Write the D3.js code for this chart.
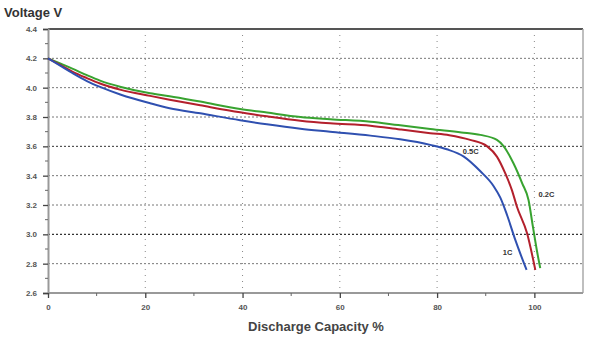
<!DOCTYPE html>
<html><head><meta charset="utf-8">
<script src="https://cdn.jsdelivr.net/npm/d3@7/dist/d3.min.js"></script>
<style>body{margin:0;background:#fff}svg{display:block;font-family:Arial,"Liberation Sans",sans-serif}</style>
</head><body><svg id="c" width="600" height="340"></svg>
<script>
const cap02 = [0,2.5,5,8,10.7,15,21,25,31.3,39.5,45,51.9,58,66.3,72,78.6,85,88.9,92.3,93.7,95.7,97.5,98.8,99.7,100.5,101.2];
const v02   = [4.20,4.165,4.13,4.085,4.048,4.005,3.962,3.942,3.905,3.855,3.83,3.80,3.785,3.768,3.745,3.718,3.695,3.678,3.644,3.60,3.485,3.348,3.234,3.052,2.893,2.77];
const cap05 = [0,2.5,5,8,10.7,15,21,25,31.3,39.5,45,51.9,58,66.3,72.4,78.6,82.5,86.8,90.3,92.3,94,95.4,96.4,98.5,100.2];
const v05   = [4.20,4.155,4.11,4.065,4.028,3.985,3.944,3.918,3.88,3.832,3.805,3.775,3.757,3.741,3.715,3.69,3.676,3.644,3.60,3.53,3.417,3.30,3.19,3.007,2.757];
const cap1  = [0,2.5,5,8,10.7,15,21,25,31.3,39.5,45,51.9,58,66.3,72.4,78.6,82,85.5,88.9,91.6,93,94.4,96.1,98.4];
const v1    = [4.20,4.15,4.10,4.045,4.005,3.952,3.894,3.86,3.825,3.778,3.75,3.72,3.70,3.673,3.648,3.61,3.58,3.53,3.43,3.33,3.25,3.13,2.96,2.757];
const seriesNames = ["0.2C","0.5C","1C"];
const xTicks = [0,20,40,60,80,100];
const yTicks = [2.6,2.8,3.0,3.2,3.4,3.6,3.8,4.0,4.2,4.4];

const svg = d3.select("#c");
const L=48,R=583,T=29,B=293;
const x = d3.scaleLinear().domain([0,110]).range([L,R]);
const y = d3.scaleLinear().domain([2.6,4.4]).range([B,T]);

// grid
const hg = [2.8,3.0,3.2,3.4,3.6,3.8,4.0,4.2];
svg.append("g").selectAll("line").data(hg).join("line")
  .attr("x1",L).attr("x2",R).attr("y1",d=>y(d)).attr("y2",d=>y(d))
  .attr("stroke",d=>(Math.abs(d-3.0)<1e-6||Math.abs(d-3.6)<1e-6)?"#333":"#777")
  .attr("stroke-width",d=>(Math.abs(d-3.0)<1e-6)?1.4:1)
  .attr("stroke-dasharray","2,2");
svg.append("g").selectAll("line").data([20,40,60,80,100]).join("line")
  .attr("x1",d=>x(d)).attr("x2",d=>x(d)).attr("y1",T).attr("y2",B)
  .attr("stroke","#888").attr("stroke-width",1).attr("stroke-dasharray","1,5");

// borders
svg.append("line").attr("x1",L).attr("x2",R).attr("y1",T).attr("y2",T).attr("stroke","#555").attr("stroke-width",2);
svg.append("line").attr("x1",R).attr("x2",R).attr("y1",T).attr("y2",B).attr("stroke","#aaa").attr("stroke-width",1.5);

// axes
const yAxis = d3.axisLeft(y).tickValues(yTicks).tickFormat(d3.format(".1f")).tickSize(5).tickPadding(6);
const gy = svg.append("g").attr("transform",`translate(${L},0)`).call(yAxis);
const xAxis = d3.axisBottom(x).tickValues(xTicks).tickFormat(d3.format("d")).tickSize(5).tickPadding(6);
const gx = svg.append("g").attr("transform",`translate(0,${B})`).call(xAxis);
[gx,gy].forEach(g=>{
  g.select(".domain").attr("stroke","#999").attr("stroke-width",2);
  g.selectAll(".tick line").attr("stroke","#444").attr("stroke-width",1.3);
  g.selectAll(".tick text").attr("fill","#555").attr("font-size",8).attr("font-weight","bold");
});
gx.select(".domain").attr("d",`M${L},0H${R}`);
// minor ticks
svg.append("g").selectAll("line").data(d3.range(2.7,4.4,0.2)).join("line")
  .attr("x1",L-3).attr("x2",L).attr("y1",d=>y(d)).attr("y2",d=>y(d)).attr("stroke","#666");
svg.append("g").selectAll("line").data([10,30,50,70,90]).join("line")
  .attr("x1",d=>x(d)).attr("x2",d=>x(d)).attr("y1",B).attr("y2",B+3).attr("stroke","#666");

// curves
const line = d3.line().x(d=>x(d[0])).y(d=>y(d[1])).curve(d3.curveMonotoneX);
const data = [
  {name:"0.2C",color:"#38a330",pts:d3.zip(cap02,v02)},
  {name:"0.5C",color:"#b3202c",pts:d3.zip(cap05,v05)},
  {name:"1C",color:"#2f50b0",pts:d3.zip(cap1,v1)}
];
svg.append("g").selectAll("path").data(data).join("path")
  .attr("d",d=>line(d.pts)).attr("fill","none").attr("stroke",d=>d.color).attr("stroke-width",2);

// curve labels
const labs = [{t:seriesNames[1],cx:86.9,cy:3.565},{t:seriesNames[0],cx:102.5,cy:3.27},{t:seriesNames[2],cx:94.5,cy:2.88}];
svg.append("g").selectAll("text").data(labs).join("text")
  .attr("x",d=>x(d.cx)).attr("y",d=>y(d.cy)).attr("dy","0.35em").attr("text-anchor","middle")
  .attr("font-size",7.5).attr("font-weight","bold").attr("fill","#333").text(d=>d.t);

// titles
svg.append("text").attr("x",4).attr("y",17).attr("font-size",13).attr("font-weight","bold").attr("fill","#333").text("Voltage V");
svg.append("text").attr("x",316).attr("y",331).attr("text-anchor","middle").attr("font-size",13).attr("font-weight","bold").attr("fill","#444").text("Discharge Capacity %");
</script></body></html>
